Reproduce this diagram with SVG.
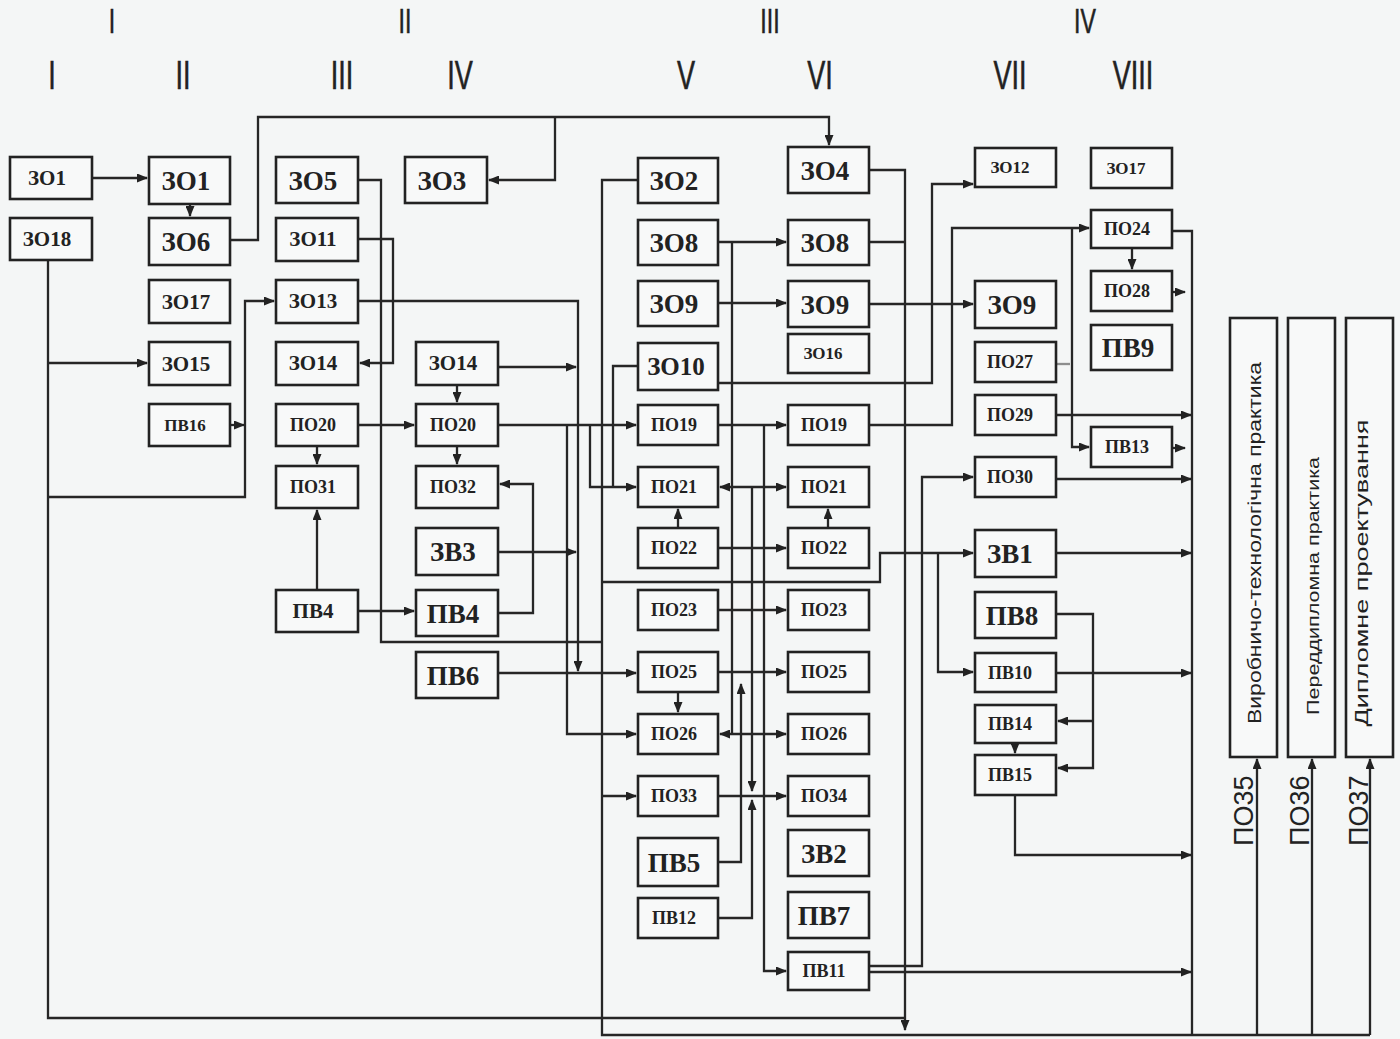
<svg xmlns="http://www.w3.org/2000/svg" width="1400" height="1039" viewBox="0 0 1400 1039">
<defs>
<marker id="ar" markerUnits="userSpaceOnUse" markerWidth="11" markerHeight="9" refX="10" refY="4.5" orient="auto-start-reverse"><path d="M0,0 L11,4.5 L0,9 z" fill="#222"/></marker>
<style>
.b{fill:#f8f9f9;stroke:#222;stroke-width:2.6}
.t{font-family:"Liberation Serif",serif;font-weight:bold;fill:#222;text-anchor:middle}
.L{font-size:27px}.M{font-size:21px}.S{font-size:18px}.X{font-size:17px}
.c{fill:none;stroke:#262626;stroke-width:2.3}
.a{marker-end:url(#ar)}
.d{marker-start:url(#ar);marker-end:url(#ar)}
.h{font-family:"Liberation Sans",Arial,sans-serif;fill:#222;text-anchor:middle;stroke:#222;stroke-width:0.6}
.r{font-family:"Liberation Sans",Arial,sans-serif;fill:#222}
</style>
</defs>
<rect width="1400" height="1039" fill="#f4f6f6"/>
<g id="header">
<text class="h" font-size="35" transform="translate(112,33) scale(0.66,1)">I</text>
<text class="h" font-size="35" transform="translate(405,33) scale(0.66,1)">II</text>
<text class="h" font-size="35" transform="translate(770,33) scale(0.66,1)">III</text>
<text class="h" font-size="35" transform="translate(1085,33) scale(0.66,1)">IV</text>
<text class="h" font-size="41" transform="translate(52,89) scale(0.66,1)">I</text>
<text class="h" font-size="41" transform="translate(183,89) scale(0.66,1)">II</text>
<text class="h" font-size="41" transform="translate(342,89) scale(0.66,1)">III</text>
<text class="h" font-size="41" transform="translate(460,89) scale(0.66,1)">IV</text>
<text class="h" font-size="41" transform="translate(686,89) scale(0.66,1)">V</text>
<text class="h" font-size="41" transform="translate(820,89) scale(0.66,1)">VI</text>
<text class="h" font-size="41" transform="translate(1010,89) scale(0.66,1)">VII</text>
<text class="h" font-size="41" transform="translate(1133,89) scale(0.66,1)">VIII</text>
</g>
<g id="connectors">
<path class="c a" d="M93,178 H147"/>
<path class="c a" d="M190,204 V216"/>
<path class="c a" d="M230,240 H258 V117 H829 V145"/>
<path class="c a" d="M555,117 V180 H489"/>
<path class="c" d="M48,260 V1018 H905"/>
<path class="c a" d="M48,363 H147"/>
<path class="c a" d="M48,497 H245 V301 H274"/>
<path class="c a" d="M230,425 H244"/>
<path class="c" d="M358,180 H381 V642 H602"/>
<path class="c a" d="M358,239 H393 V363 H360"/>
<path class="c a" d="M358,301 H578 V671"/>
<path class="c a" d="M498,367 H576"/>
<path class="c a" d="M457,385 V402"/>
<path class="c a" d="M358,425 H414"/>
<path class="c a" d="M317,446 V464"/>
<path class="c a" d="M317,590 V510"/>
<path class="c a" d="M358,611 H414"/>
<path class="c a" d="M457,446 V464"/>
<path class="c a" d="M498,425 H636"/>
<path class="c a" d="M590,425 V487 H636"/>
<path class="c a" d="M567,425 V734 H636"/>
<path class="c a" d="M498,552 H576"/>
<path class="c a" d="M498,613 H533 V484 H500"/>
<path class="c a" d="M498,673 H636"/>
<path class="c" d="M638,180 H602 V1035 H1370"/>
<path class="c" d="M638,366 H613 V487"/>
<path class="c a" d="M602,796 H636"/>
<path class="c a" d="M602,582 H880 V553 H973"/>
<path class="c a" d="M938,553 V672 H973"/>
<path class="c a" d="M718,242 H786"/>
<path class="c" d="M732,242 V734"/>
<path class="c d" d="M720,487 H786"/>
<path class="c d" d="M720,734 H786"/>
<path class="c a" d="M718,303 H786"/>
<path class="c a" d="M718,425 H786"/>
<path class="c a" d="M718,548 H786"/>
<path class="c a" d="M718,610 H786"/>
<path class="c a" d="M718,672 H786"/>
<path class="c a" d="M718,796 H786"/>
<path class="c a" d="M678,528 V509"/>
<path class="c a" d="M828,528 V509"/>
<path class="c a" d="M678,692 V712"/>
<path class="c a" d="M718,862 H741 V684"/>
<path class="c a" d="M718,918 H752 V800"/>
<path class="c a" d="M752,487 V791"/>
<path class="c a" d="M764,425 V971 H786"/>
<path class="c a" d="M869,170 H905 V1030"/>
<path class="c" d="M869,242 H905"/>
<path class="c a" d="M869,304 H973"/>
<path class="c a" d="M718,383 H932 V184 H973"/>
<path class="c a" d="M869,425 H952 V228 H1089"/>
<path class="c a" d="M1072,228 V447 H1089"/>
<path class="c" d="M1056,364 H1070" stroke-opacity="0.5"/>
<path class="c a" d="M1132,248 V269"/>
<path class="c" d="M1172,231 H1192 V1035"/>
<path class="c a" d="M1172,292 H1185"/>
<path class="c a" d="M1172,448 H1185"/>
<path class="c a" d="M1056,415 H1191"/>
<path class="c a" d="M1056,479 H1191"/>
<path class="c a" d="M1056,553 H1191"/>
<path class="c a" d="M1056,673 H1191"/>
<path class="c a" d="M1015,795 V855 H1191"/>
<path class="c a" d="M869,972 H1191"/>
<path class="c a" d="M869,966 H922 V477 H973"/>
<path class="c a" d="M1056,614 H1093 V768 H1058"/>
<path class="c a" d="M1093,721 H1058"/>
<path class="c a" d="M1015,743 V753"/>
<path class="c a" d="M1257,1035 V759"/>
<path class="c a" d="M1312,1035 V759"/>
<path class="c a" d="M1370,1035 V759"/>
</g>
<g id="n_ZO1a"><rect class="b" x="10" y="157" width="82" height="42"/><text class="t M" x="47" y="185">ЗО1</text></g>
<g id="n_ZO18"><rect class="b" x="10" y="218" width="82" height="42"/><text class="t M" x="47" y="246">ЗО18</text></g>
<g id="n_ZO1b"><rect class="b" x="149" y="157" width="81" height="47"/><text class="t L" x="186" y="190">ЗО1</text></g>
<g id="n_ZO6"><rect class="b" x="149" y="218" width="81" height="47"/><text class="t L" x="186" y="251">ЗО6</text></g>
<g id="n_ZO17a"><rect class="b" x="149" y="280" width="81" height="43"/><text class="t M" x="186" y="309">ЗО17</text></g>
<g id="n_ZO15"><rect class="b" x="149" y="342" width="81" height="43"/><text class="t M" x="186" y="371">ЗО15</text></g>
<g id="n_PV16"><rect class="b" x="149" y="404" width="81" height="42"/><text class="t X" x="185" y="431">ПВ16</text></g>
<g id="n_ZO5"><rect class="b" x="276" y="157" width="82" height="46"/><text class="t L" x="313" y="190">ЗО5</text></g>
<g id="n_ZO11"><rect class="b" x="276" y="218" width="82" height="43"/><text class="t M" x="313" y="246">ЗО11</text></g>
<g id="n_ZO13"><rect class="b" x="276" y="280" width="82" height="43"/><text class="t M" x="313" y="308">ЗО13</text></g>
<g id="n_ZO14a"><rect class="b" x="276" y="342" width="82" height="43"/><text class="t M" x="313" y="370">ЗО14</text></g>
<g id="n_PO20a"><rect class="b" x="276" y="404" width="82" height="42"/><text class="t S" x="313" y="431">ПО20</text></g>
<g id="n_PO31"><rect class="b" x="276" y="466" width="82" height="42"/><text class="t S" x="313" y="493">ПО31</text></g>
<g id="n_PV4a"><rect class="b" x="276" y="590" width="82" height="42"/><text class="t M" x="313" y="618">ПВ4</text></g>
<g id="n_ZO3"><rect class="b" x="405" y="157" width="82" height="46"/><text class="t L" x="442" y="190">ЗО3</text></g>
<g id="n_ZO14b"><rect class="b" x="416" y="342" width="82" height="43"/><text class="t M" x="453" y="370">ЗО14</text></g>
<g id="n_PO20b"><rect class="b" x="416" y="404" width="82" height="42"/><text class="t S" x="453" y="431">ПО20</text></g>
<g id="n_PO32"><rect class="b" x="416" y="466" width="82" height="42"/><text class="t S" x="453" y="493">ПО32</text></g>
<g id="n_ZV3"><rect class="b" x="416" y="528" width="82" height="47"/><text class="t L" x="453" y="561">ЗВ3</text></g>
<g id="n_PV4b"><rect class="b" x="416" y="590" width="82" height="46"/><text class="t L" x="453" y="623">ПВ4</text></g>
<g id="n_PV6"><rect class="b" x="416" y="652" width="82" height="46"/><text class="t L" x="453" y="685">ПВ6</text></g>
<g id="n_ZO2"><rect class="b" x="638" y="158" width="80" height="45"/><text class="t L" x="674" y="190">ЗО2</text></g>
<g id="n_ZO8a"><rect class="b" x="638" y="220" width="80" height="45"/><text class="t L" x="674" y="252">ЗО8</text></g>
<g id="n_ZO9a"><rect class="b" x="638" y="281" width="80" height="45"/><text class="t L" x="674" y="313">ЗО9</text></g>
<g id="n_ZO10"><rect class="b" x="638" y="343" width="80" height="47"/><text class="t" font-size="25" x="676" y="375">ЗО10</text></g>
<g id="n_PO19a"><rect class="b" x="638" y="405" width="80" height="40"/><text class="t S" x="674" y="431">ПО19</text></g>
<g id="n_PO21a"><rect class="b" x="638" y="467" width="80" height="40"/><text class="t S" x="674" y="493">ПО21</text></g>
<g id="n_PO22a"><rect class="b" x="638" y="528" width="80" height="40"/><text class="t S" x="674" y="554">ПО22</text></g>
<g id="n_PO23a"><rect class="b" x="638" y="590" width="80" height="40"/><text class="t S" x="674" y="616">ПО23</text></g>
<g id="n_PO25a"><rect class="b" x="638" y="652" width="80" height="40"/><text class="t S" x="674" y="678">ПО25</text></g>
<g id="n_PO26a"><rect class="b" x="638" y="714" width="80" height="40"/><text class="t S" x="674" y="740">ПО26</text></g>
<g id="n_PO33"><rect class="b" x="638" y="776" width="80" height="40"/><text class="t S" x="674" y="802">ПО33</text></g>
<g id="n_PV5"><rect class="b" x="638" y="838" width="80" height="48"/><text class="t L" x="674" y="872">ПВ5</text></g>
<g id="n_PV12"><rect class="b" x="638" y="898" width="80" height="40"/><text class="t S" x="674" y="924">ПВ12</text></g>
<g id="n_ZO4"><rect class="b" x="788" y="147" width="81" height="46"/><text class="t L" x="825" y="180">ЗО4</text></g>
<g id="n_ZO8b"><rect class="b" x="788" y="220" width="81" height="45"/><text class="t L" x="825" y="252">ЗО8</text></g>
<g id="n_ZO9b"><rect class="b" x="788" y="281" width="81" height="46"/><text class="t L" x="825" y="314">ЗО9</text></g>
<g id="n_ZO16"><rect class="b" x="788" y="334" width="81" height="39"/><text class="t X" x="823" y="359">ЗО16</text></g>
<g id="n_PO19b"><rect class="b" x="788" y="405" width="81" height="40"/><text class="t S" x="824" y="431">ПО19</text></g>
<g id="n_PO21b"><rect class="b" x="788" y="467" width="81" height="40"/><text class="t S" x="824" y="493">ПО21</text></g>
<g id="n_PO22b"><rect class="b" x="788" y="528" width="81" height="40"/><text class="t S" x="824" y="554">ПО22</text></g>
<g id="n_PO23b"><rect class="b" x="788" y="590" width="81" height="40"/><text class="t S" x="824" y="616">ПО23</text></g>
<g id="n_PO25b"><rect class="b" x="788" y="652" width="81" height="40"/><text class="t S" x="824" y="678">ПО25</text></g>
<g id="n_PO26b"><rect class="b" x="788" y="714" width="81" height="40"/><text class="t S" x="824" y="740">ПО26</text></g>
<g id="n_PO34"><rect class="b" x="788" y="776" width="81" height="40"/><text class="t S" x="824" y="802">ПО34</text></g>
<g id="n_ZV2"><rect class="b" x="788" y="830" width="81" height="46"/><text class="t L" x="824" y="863">ЗВ2</text></g>
<g id="n_PV7"><rect class="b" x="788" y="892" width="81" height="46"/><text class="t L" x="824" y="925">ПВ7</text></g>
<g id="n_PV11"><rect class="b" x="788" y="952" width="81" height="38"/><text class="t S" x="824" y="977">ПВ11</text></g>
<g id="n_ZO12"><rect class="b" x="975" y="148" width="81" height="39"/><text class="t X" x="1010" y="173">ЗО12</text></g>
<g id="n_ZO9c"><rect class="b" x="975" y="281" width="81" height="47"/><text class="t L" x="1012" y="314">ЗО9</text></g>
<g id="n_PO27"><rect class="b" x="975" y="342" width="81" height="40"/><text class="t S" x="1010" y="368">ПО27</text></g>
<g id="n_PO29"><rect class="b" x="975" y="395" width="81" height="40"/><text class="t S" x="1010" y="421">ПО29</text></g>
<g id="n_PO30"><rect class="b" x="975" y="457" width="81" height="40"/><text class="t S" x="1010" y="483">ПО30</text></g>
<g id="n_ZV1"><rect class="b" x="975" y="530" width="81" height="47"/><text class="t L" x="1010" y="563">ЗВ1</text></g>
<g id="n_PV8"><rect class="b" x="975" y="592" width="81" height="46"/><text class="t L" x="1012" y="625">ПВ8</text></g>
<g id="n_PV10"><rect class="b" x="975" y="653" width="81" height="39"/><text class="t S" x="1010" y="679">ПВ10</text></g>
<g id="n_PV14"><rect class="b" x="975" y="705" width="81" height="38"/><text class="t S" x="1010" y="730">ПВ14</text></g>
<g id="n_PV15"><rect class="b" x="975" y="755" width="81" height="40"/><text class="t S" x="1010" y="781">ПВ15</text></g>
<g id="n_ZO17b"><rect class="b" x="1091" y="148" width="81" height="40"/><text class="t X" x="1126" y="174">ЗО17</text></g>
<g id="n_PO24"><rect class="b" x="1091" y="210" width="81" height="38"/><text class="t S" x="1127" y="235">ПО24</text></g>
<g id="n_PO28"><rect class="b" x="1091" y="271" width="81" height="40"/><text class="t S" x="1127" y="297">ПО28</text></g>
<g id="n_PV9"><rect class="b" x="1091" y="325" width="81" height="45"/><text class="t L" x="1128" y="357">ПВ9</text></g>
<g id="n_PV13"><rect class="b" x="1091" y="427" width="81" height="40"/><text class="t S" x="1127" y="453">ПВ13</text></g>
<g id="n_practice1"><rect class="b" x="1230" y="318" width="47" height="439"/><text class="r" font-size="18" text-anchor="middle" textLength="362" lengthAdjust="spacingAndGlyphs" transform="translate(1261,543) rotate(-90)">Виробничо-технологічна практика</text></g>
<g id="n_practice2"><rect class="b" x="1288" y="318" width="47" height="439"/><text class="r" font-size="17" text-anchor="middle" textLength="258" lengthAdjust="spacingAndGlyphs" transform="translate(1319,586) rotate(-90)">Переддипломна практика</text></g>
<g id="n_diploma"><rect class="b" x="1346" y="318" width="47" height="439"/><text class="r" font-size="19" text-anchor="middle" textLength="307" lengthAdjust="spacingAndGlyphs" transform="translate(1368,573) rotate(-90)">Дипломне проектування</text></g>
<g id="labels">
<text class="r" font-size="27" transform="translate(1253,846) rotate(-90)">ПО35</text>
<text class="r" font-size="27" transform="translate(1309,846) rotate(-90)">ПО36</text>
<text class="r" font-size="27" transform="translate(1368,846) rotate(-90)">ПО37</text>
</g>
</svg>
